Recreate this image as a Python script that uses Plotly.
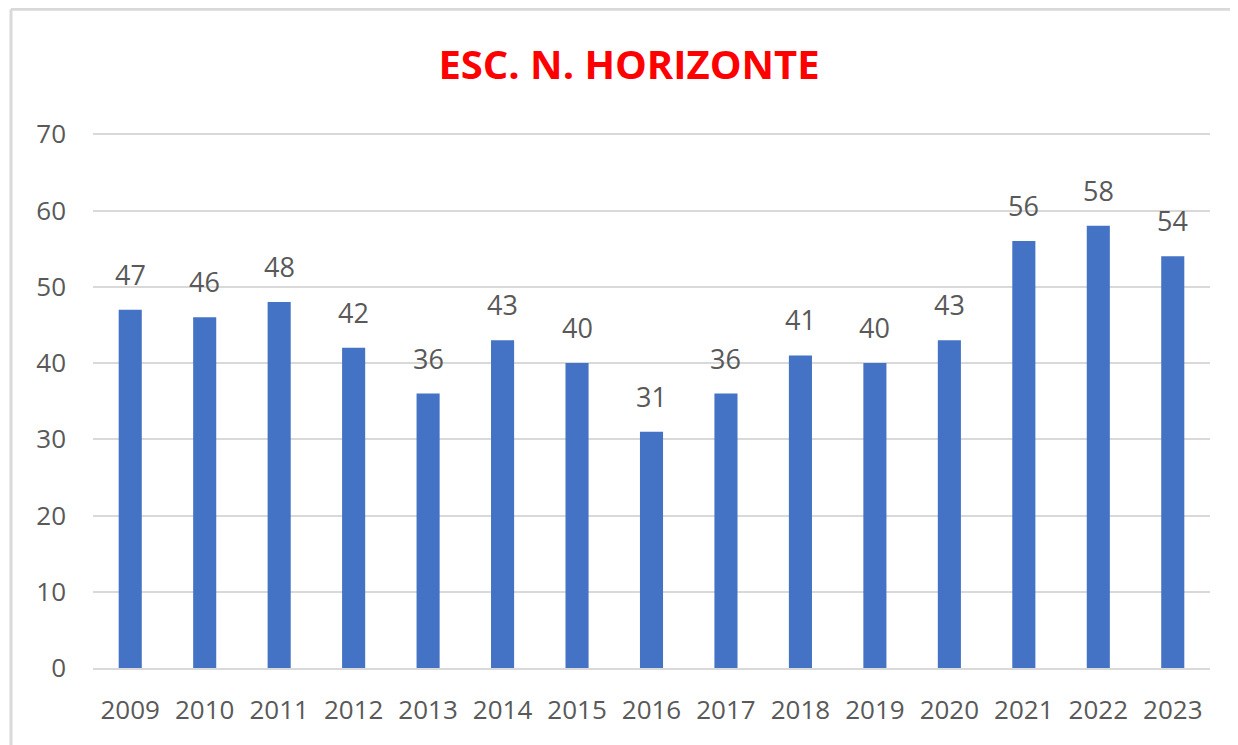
import plotly.graph_objects as go

years = ["2009", "2010", "2011", "2012", "2013", "2014", "2015", "2016",
         "2017", "2018", "2019", "2020", "2021", "2022", "2023"]
values = [47, 46, 48, 42, 36, 43, 40, 31, 36, 41, 40, 43, 56, 58, 54]
y_ticks = [0, 10, 20, 30, 40, 50, 60, 70]
title_text = "ESC. N. HORIZONTE"

OFF = 8  # default body margin of the html page
W, H = 1238 - OFF, 745 - OFF
YMAX = 70.3
plot_bottom, plot_left, plot_right = 668, 93, 1210
px_per_unit = (668 - 134) / 70.0
plot_top = plot_bottom - YMAX * px_per_unit
L, R = plot_left - OFF, (W + OFF) - plot_right
T, B = plot_top - OFF, (H + OFF) - plot_bottom
pw, ph = W - L - R, H - T - B
FONT = "Open Sans, Liberation Sans"

idx = list(range(len(years)))

fig = go.Figure(go.Bar(
    x=idx, y=values,
    marker=dict(color="#4472C4", line=dict(width=0)),
    customdata=years, hovertemplate="%{customdata}: %{y}<extra></extra>",
))

for i, v in zip(idx, values):
    fig.add_annotation(x=i, y=v, xref="x", yref="y", text=str(v), showarrow=False,
                       xanchor="center", yanchor="bottom", yshift=15,
                       font=dict(family=FONT, size=27, color="#595959"))

bx = (11 - plot_left) / pw
by = (plot_bottom - 9) / ph
fig.update_layout(
    width=W, height=H,
    margin=dict(l=L, r=R, t=T, b=B, pad=0),
    paper_bgcolor="white", plot_bgcolor="white",
    bargap=0.69,
    showlegend=False,
    title=dict(text="<b>" + title_text + "</b>", x=(629 - plot_left) / pw, xref="paper",
               y=1 - (65 - OFF) / H, yref="container", xanchor="center", yanchor="middle",
               font=dict(family=FONT, size=40, color="#FF0000")),
    xaxis=dict(range=[-0.5, len(years) - 0.5], tickvals=idx, ticktext=years,
               showgrid=False, zeroline=False, showline=True, linecolor="#D9D9D9", linewidth=2,
               ticks="", tickfont=dict(family=FONT, size=26, color="#595959"),
               ticklabelstandoff=18),
    yaxis=dict(range=[0, YMAX], tickvals=y_ticks, showgrid=True, gridcolor="#D9D9D9",
               gridwidth=2, zeroline=False, showline=False, ticks="",
               tickfont=dict(family=FONT, size=26, color="#595959"),
               ticklabelstandoff=26),
    shapes=[
        dict(type="line", xref="paper", yref="paper", x0=bx, x1=1.3, y0=by, y1=by,
             line=dict(color="#D9D9D9", width=3), layer="below"),
        dict(type="line", xref="paper", yref="paper", x0=bx, x1=bx, y0=by, y1=-0.4,
             line=dict(color="#D9D9D9", width=3), layer="below"),
    ],
)

fig.write_html("out.html")
